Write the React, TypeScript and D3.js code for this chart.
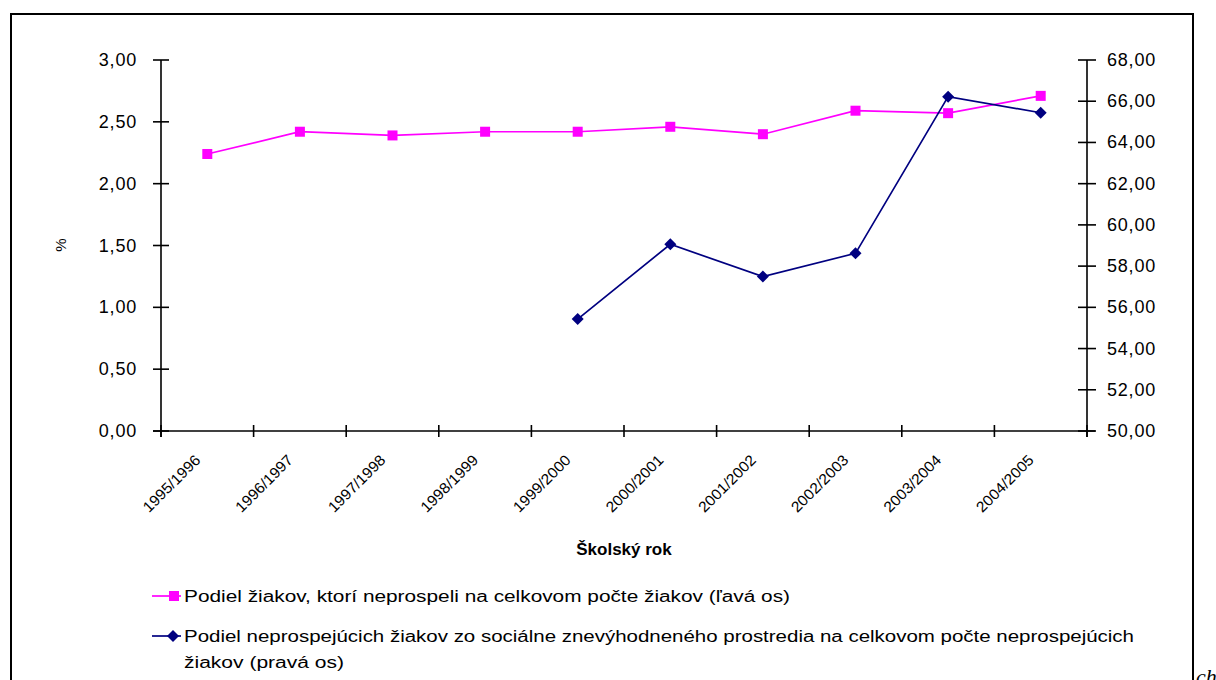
import React from "react";
import * as d3 from "d3";

const categories = [
  "1995/1996", "1996/1997", "1997/1998", "1998/1999", "1999/2000",
  "2000/2001", "2001/2002", "2002/2003", "2003/2004", "2004/2005",
];
const leftSeries: (number | null)[] = [2.24, 2.42, 2.39, 2.42, 2.42, 2.46, 2.40, 2.59, 2.57, 2.71];
const rightSeries: (number | null)[] = [null, null, null, null, 55.43, 59.06, 57.49, 58.62, 66.22, 65.44];
const leftTicks = [0, 0.5, 1, 1.5, 2, 2.5, 3];
const rightTicks = [50, 52, 54, 56, 58, 60, 62, 64, 66, 68];
const leftName = "Podiel žiakov, ktorí neprospeli na celkovom počte žiakov (ľavá os)";
const rightName1 = "Podiel neprospejúcich žiakov zo sociálne znevýhodneného prostredia na celkovom počte neprospejúcich";
const rightName2 = "žiakov (pravá os)";
const xTitle = "Školský rok";
const yTitle = "%";

const fmt = (v: number) => v.toFixed(2).replace(".", ",");

export default function App() {
  const W = 1216, H = 680;
  const x0 = 161, x1 = 1087, yTop = 60, yBot = 431;
  const x = d3.scaleBand<string>().domain(categories).range([x0, x1]);
  const yL = d3.scaleLinear().domain([0, 3]).range([yBot, yTop]);
  const yR = d3.scaleLinear().domain([50, 68]).range([yBot, yTop]);
  const cx = (c: string) => (x(c) as number) + x.bandwidth() / 2;

  const lineL = d3.line<number | null>()
    .defined((d) => d != null)
    .x((_, i) => cx(categories[i]))
    .y((d) => yL(d as number));
  const lineR = d3.line<number | null>()
    .defined((d) => d != null)
    .x((_, i) => cx(categories[i]))
    .y((d) => yR(d as number));

  const pink = "#FF00FF";
  const navy = "#000080";
  const font = "'Liberation Sans', Arial, sans-serif";
  const diamond = (px: number, py: number, r: number) =>
    `M${px},${py - r}L${px + r},${py}L${px},${py + r}L${px - r},${py}Z`;

  const xTickPos = [...categories.map((c) => x(c) as number), x1];

  return (
    <svg width={W} height={H} style={{ position: "absolute", left: 0, top: 0, background: "#fff" }}>
      <rect x={11} y={14} width={1182} height={700} fill="#fff" stroke="#000" strokeWidth={2} />
      {/* left axis */}
      <line x1={x0} x2={x0} y1={yTop} y2={yBot + 6} stroke="#000" strokeWidth={1.6} />
      {leftTicks.map((t) => (
        <g key={"l" + t}>
          <line x1={x0 - 8} x2={x0 + 8} y1={yL(t)} y2={yL(t)} stroke="#000" strokeWidth={1.6} />
          <text x={137} y={yL(t) + 6} textAnchor="end" fontFamily={font} fontSize={18} letterSpacing={0.8} fill="#000">
            {fmt(t)}
          </text>
        </g>
      ))}
      {/* right axis */}
      <line x1={x1} x2={x1} y1={yTop} y2={yBot + 6} stroke="#000" strokeWidth={1.6} />
      {rightTicks.map((t) => (
        <g key={"r" + t}>
          <line x1={x1 - 9} x2={x1 + 9} y1={yR(t)} y2={yR(t)} stroke="#000" strokeWidth={1.6} />
          <text x={1107} y={yR(t) + 6} textAnchor="start" fontFamily={font} fontSize={18} letterSpacing={0.8} fill="#000">
            {fmt(t)}
          </text>
        </g>
      ))}
      {/* x axis */}
      <line x1={x0 - 8} x2={x1 + 8} y1={yBot} y2={yBot} stroke="#000" strokeWidth={1.6} />
      {xTickPos.map((p, i) => (
        <line key={"xt" + i} x1={p} x2={p} y1={yBot - 6} y2={yBot + 6} stroke="#000" strokeWidth={1.6} />
      ))}
      {categories.map((c) => (
        <text
          key={"xl" + c}
          transform={`translate(${cx(c) - 6},${461}) rotate(-45)`}
          textAnchor="end"
          fontFamily={font}
          fontSize={15}
          textLength={74}
          lengthAdjust="spacingAndGlyphs"
          fill="#000"
        >
          {c}
        </text>
      ))}
      <text x={(x0 + x1) / 2} y={555} textAnchor="middle" fontFamily={font} fontSize={17} fontWeight="bold" fill="#000">
        {xTitle}
      </text>
      <text transform={`translate(66,245) rotate(-90)`} textAnchor="middle" fontFamily={font} fontSize={15} fill="#000">
        {yTitle}
      </text>

      {/* series */}
      <path d={lineL(leftSeries) || ""} fill="none" stroke={pink} strokeWidth={1.7} />
      {leftSeries.map((v, i) =>
        v == null ? null : (
          <rect key={"pm" + i} x={cx(categories[i]) - 5} y={yL(v) - 5} width={10} height={10} fill={pink} />
        )
      )}
      <path d={lineR(rightSeries) || ""} fill="none" stroke={navy} strokeWidth={1.7} />
      {rightSeries.map((v, i) =>
        v == null ? null : <path key={"nm" + i} d={diamond(cx(categories[i]), yR(v), 6)} fill={navy} />
      )}

      {/* legend */}
      <line x1={152} x2={181} y1={596} y2={596} stroke={pink} strokeWidth={1.7} />
      <rect x={169} y={591} width={10} height={10} fill={pink} />
      <text x={184} y={602} fontFamily={font} fontSize={16} fill="#000" textLength={606} lengthAdjust="spacingAndGlyphs">
        {leftName}
      </text>
      <line x1={152} x2={181} y1={636} y2={636} stroke={navy} strokeWidth={1.7} />
      <path d={diamond(173, 636, 6)} fill={navy} />
      <text x={184} y={642} fontFamily={font} fontSize={16} fill="#000" textLength={950} lengthAdjust="spacingAndGlyphs">
        {rightName1}
      </text>
      <text x={184} y={668} fontFamily={font} fontSize={16} fill="#000" textLength={160} lengthAdjust="spacingAndGlyphs">
        {rightName2}
      </text>
      <text x={1196} y={684} fontFamily="'Liberation Serif', serif" fontStyle="italic" fontSize={22} fill="#000">
        ch
      </text>
    </svg>
  );
}
